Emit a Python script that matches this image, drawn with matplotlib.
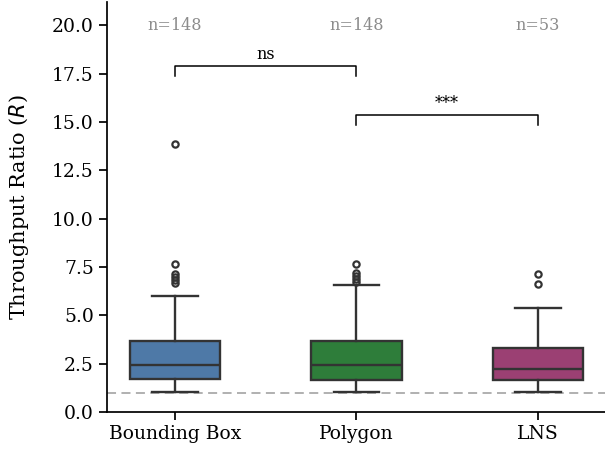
import matplotlib.pyplot as plt

plt.rcParams['font.family'] = ['DejaVu Serif']

methods = ["Bounding Box", "Polygon", "LNS"]
counts = [148, 148, 53]
colors = ["#4e79a7", "#2e7d3a", "#9b4073"]

q1 = [1.71, 1.65, 1.65]
med = [2.41, 2.41, 2.24]
q3 = [3.68, 3.68, 3.29]
whislo = [1.02, 1.03, 1.03]
whishi = [5.98, 6.58, 5.37]
fliers = [
	[13.87, 7.63, 7.13, 6.98, 6.82, 6.67],
	[7.63, 7.17, 7.02, 6.87, 6.74],
	[7.12, 6.63],
]

# significance brackets: (left, right, y, label)
brackets = [(0, 1, 17.88, "ns"), (1, 2, 15.36, "***")]

fig = plt.figure(figsize=(6.05, 4.58), dpi=100)
ax = fig.add_axes([107/605, 46/458, 498/605, 410/458])

stats = []
for i in range(len(methods)):
	stats.append(dict(q1=q1[i], med=med[i], q3=q3[i], whislo=whislo[i],
		whishi=whishi[i], fliers=fliers[i], label=methods[i]))

edge = "#333333"
bp = ax.bxp(stats, positions=range(len(methods)), widths=0.5, patch_artist=True,
	boxprops=dict(edgecolor=edge, linewidth=1.7),
	medianprops=dict(color=edge, linewidth=1.7),
	whiskerprops=dict(color=edge, linewidth=1.7),
	capprops=dict(color=edge, linewidth=1.7),
	flierprops=dict(marker="o", markerfacecolor="none", markeredgecolor=edge,
		markersize=4.5, markeredgewidth=1.6))
for patch, c in zip(bp["boxes"], colors):
	patch.set_facecolor(c)

ax.axhline(1.0, color="#aaaaaa", linestyle=(0, (5, 3)), linewidth=1.3, zorder=0)

h = 0.52
for x1, x2, y, lab in brackets:
	ax.plot([x1, x1, x2, x2], [y - h, y, y, y - h], color="black", linewidth=1.1)
	ax.text((x1 + x2) / 2, y + 0.15, lab, ha="center", va="bottom", fontsize=11.5)

for i, n in enumerate(counts):
	ax.text(i, 20.0, f"n={n}", ha="center", va="center", fontsize=11.5, color="#8c8c8c")

ax.set_xlim(-0.375, 2.37)
ax.set_ylim(0, 21.2)
ax.set_yticks([0, 2.5, 5, 7.5, 10, 12.5, 15, 17.5, 20])
ax.set_yticklabels(["0.0", "2.5", "5.0", "7.5", "10.0", "12.5", "15.0", "17.5", "20.0"])
ax.set_ylabel("Throughput Ratio ($R$)", fontsize=15, labelpad=15)
ax.tick_params(labelsize=13.5, length=6, width=1.25)
for s in ["top", "right"]:
	ax.spines[s].set_visible(False)
for s in ["left", "bottom"]:
	ax.spines[s].set_linewidth(1.25)

fig.savefig("out.png", dpi=100)
